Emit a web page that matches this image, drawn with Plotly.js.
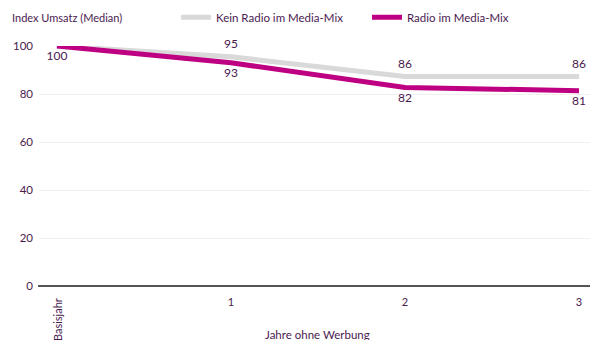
<!DOCTYPE html>
<html>
<head>
<meta charset="utf-8">
<script src="https://cdn.plot.ly/plotly-3.0.1.min.js"></script>
<style>html,body{margin:0;padding:0;background:#fff}#chart{width:590px;height:340px}</style>
</head>
<body>
<div id="chart"></div>
<script>
const years = [0, 1, 2, 3];
const yearLabels = ['', '1', '2', '3'];
const baseLabel = 'Basisjahr';
const keinRadio = [100, 95.5, 87.3, 87.3];
const keinRadioText = ['', '95', '86', '86'];
const mitRadio = [100, 93, 82.7, 81.4];
const mitRadioText = ['100', '93', '82', '81'];
const seriesNames = ['Kein Radio im Media-Mix', 'Radio im Media-Mix'];
const yTitle = 'Index Umsatz (Median)';
const xTitle = 'Jahre ohne Werbung';

const txt = '#4a1a4f';
const fontFam = 'Lato, "Open Sans", sans-serif';
const grayC = '#d9d9d9', magC = '#be0082';

const traces = [
  {x: years, y: keinRadio, name: seriesNames[0], type: 'scatter', mode: 'lines',
   line: {color: grayC, width: 5}, hoverinfo: 'skip'},
  {x: years, y: mitRadio, name: seriesNames[1], type: 'scatter', mode: 'lines',
   line: {color: magC, width: 5}, hoverinfo: 'skip'},
  {x: years, y: keinRadio, text: keinRadioText, type: 'scatter', mode: 'markers+text', showlegend: false,
   marker: {size: 7, opacity: 0, color: grayC}, textposition: 'top center', cliponaxis: false,
   textfont: {color: txt, size: 12, family: fontFam}, hoverinfo: 'skip'},
  {x: years, y: mitRadio, text: mitRadioText, type: 'scatter', mode: 'markers+text', showlegend: false,
   marker: {size: 7, opacity: 0, color: magC}, textposition: 'bottom center', cliponaxis: false,
   textfont: {color: txt, size: 12, family: fontFam}, hoverinfo: 'skip'}
];

const layout = {
  width: 590, height: 340,
  margin: {l: 38, r: 0, t: 46, b: 54, autoexpand: false},
  paper_bgcolor: '#fff', plot_bgcolor: '#fff',
  font: {family: fontFam, color: txt, size: 11},
  showlegend: true,
  legend: {orientation: 'h', x: 0.25, xanchor: 'left', y: 1.12, yanchor: 'middle',
           font: {size: 11.5, color: txt, family: fontFam}, entrywidth: 146, entrywidthmode: 'pixels',
           itemwidth: 30, bgcolor: 'rgba(0,0,0,0)'},
  xaxis: {range: [-0.109, 3.063], tickvals: years, ticktext: yearLabels, showgrid: false, zeroline: false,
          showline: false, ticks: '', tickfont: {size: 11, color: txt}, ticklabelstandoff: 8,
          fixedrange: true},
  yaxis: {range: [0, 100], tickvals: [0, 20, 40, 60, 80, 100], showgrid: true, gridcolor: '#efefef', gridwidth: 1,
          zeroline: true, zerolinecolor: '#555', zerolinewidth: 1.5, showline: false, ticks: '',
          tickfont: {size: 11.5, color: txt}, ticklabelstandoff: 4, fixedrange: true},
  annotations: [
    {text: yTitle, xref: 'paper', yref: 'paper', x: -0.05, y: 1.12, xanchor: 'left', yanchor: 'middle',
     showarrow: false, font: {size: 11, color: txt}},
    {text: baseLabel, xref: 'x', yref: 'paper', x: 0, y: -0.04, xanchor: 'center', yanchor: 'top',
     textangle: -90, showarrow: false, font: {size: 11, color: txt}},
    {text: xTitle, xref: 'paper', yref: 'paper', x: 0.506, y: -0.2, xanchor: 'center', yanchor: 'middle',
     showarrow: false, font: {size: 11.5, color: txt}}
  ]
};

Plotly.newPlot('chart', traces, layout, {displayModeBar: false, staticPlot: true});
</script>
</body>
</html>
